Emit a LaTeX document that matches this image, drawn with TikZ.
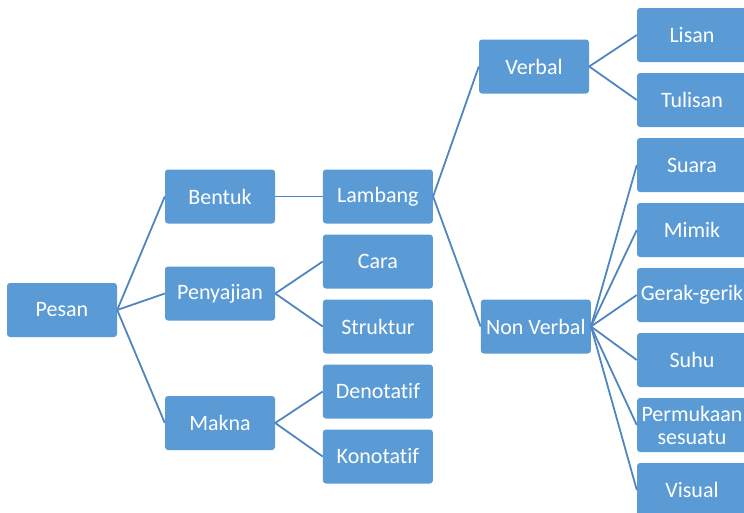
\documentclass[tikz,border=0pt]{standalone}
\usepackage{fontspec}
\setmainfont{Carlito}[Ligatures={NoCommon}]
\usetikzlibrary{positioning}
\definecolor{boxblue}{HTML}{5B9BD5}
\definecolor{lineblue}{HTML}{4F86C0}

\begin{document}
\begin{tikzpicture}[x=1pt, y=-1pt,
  node distance=10.6pt and 47.5pt,
  box/.style={fill=boxblue, rounded corners=3pt, align=center, text=white,
    font=\fontsize{22}{23}\selectfont, minimum width=110pt, minimum height=54pt,
    inner sep=1pt},
  link/.style={lineblue, line width=1.8pt}]
\clip (0,0) rectangle (744,512);
\useasboundingbox (0,0) rectangle (744,512);
\node[box] (pesan) at (62,310) {Pesan};
\node[box] (bentuk) at (220,196.5) {Bentuk};
\node[box] (penyajian) at (220,293.5) {Penyajian};
\node[box] (makna) at (220,423) {Makna};
\node[box, right=of bentuk] (lambang) {Lambang};
\node[box, below=of lambang] (cara) {Cara};
\node[box, below=of cara] (struktur) {Struktur};
\node[box, below=of struktur] (denotatif) {Denotatif};
\node[box, below=of denotatif] (konotatif) {Konotatif};
\node[box] (verbal) at (534,66.5) {Verbal};
\node[box, right=of struktur] (nonverbal) {Non Verbal};
\node[box] (lisan) at (692,35) {Lisan};
\node[box, below=of lisan] (tulisan) {Tulisan};
\node[box, below=of tulisan] (suara) {Suara};
\node[box, below=of suara] (mimik) {Mimik};
\node[box, below=of mimik] (gerak) {Gerak-gerik};
\node[box, below=of gerak] (suhu) {Suhu};
\node[box, below=of suhu] (permukaan) {Permukaan\\sesuatu};
\node[box, below=of permukaan] (visual) {Visual};
% connectors
\draw[link] (pesan.east) -- (bentuk.west);
\draw[link] (pesan.east) -- (penyajian.west);
\draw[link] (pesan.east) -- (makna.west);
\draw[link] (bentuk.east) -- (lambang.west);
\draw[link] (penyajian.east) -- (cara.west);
\draw[link] (penyajian.east) -- (struktur.west);
\draw[link] (makna.east) -- (denotatif.west);
\draw[link] (makna.east) -- (konotatif.west);
\draw[link] (lambang.east) -- (verbal.west);
\draw[link] (lambang.east) -- (nonverbal.west);
\draw[link] (verbal.east) -- (lisan.west);
\draw[link] (verbal.east) -- (tulisan.west);
\draw[link] (nonverbal.east) -- (suara.west);
\draw[link] (nonverbal.east) -- (mimik.west);
\draw[link] (nonverbal.east) -- (gerak.west);
\draw[link] (nonverbal.east) -- (suhu.west);
\draw[link] (nonverbal.east) -- (permukaan.west);
\draw[link] (nonverbal.east) -- (visual.west);
\end{tikzpicture}
\end{document}
